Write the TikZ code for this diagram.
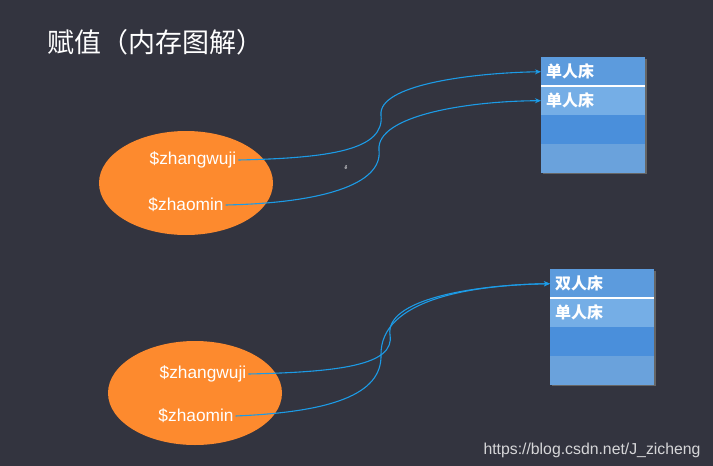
\documentclass[tikz,border=0pt]{standalone}
\usepackage{fontspec}
\setmainfont{Liberation Sans}
\newfontfamily\cjk{Noto Sans CJK SC}
\definecolor{bg}{HTML}{33343F}
\definecolor{org}{HTML}{FD8A2E}
\definecolor{arr}{HTML}{1C9BE6}
\definecolor{rowa}{HTML}{5C9BDD}
\definecolor{rowb}{HTML}{75AEE6}
\definecolor{rowc}{HTML}{4A8FDB}
\definecolor{rowd}{HTML}{6AA2DC}
\begin{document}
\begin{tikzpicture}[x=1pt,y=-1pt,
  ell/.style={ellipse,fill=org,minimum width=174pt,minimum height=104pt,inner sep=0},
  var/.style={text=white,font=\fontsize{17.3}{20}\selectfont,inner sep=2pt},
  cell/.style={minimum width=104pt,minimum height=29pt,inner sep=0,anchor=north west,text=white,font=\cjk\bfseries\fontsize{16}{18}\selectfont,align=left,text width=94pt},
  ptr/.style={arr,line width=1.1pt,-{Stealth[length=6pt,width=5pt]}}]
\usetikzlibrary{shapes.geometric,arrows.meta}
\fill[bg] (0,0) rectangle (713,466);
\node[anchor=west,text=white,font=\cjk\fontsize{27}{30}\selectfont] (title) at (44,42) {赋值（内存图解）};
% top
\node[ell] (e1) at (186,183) {};
\node[var] (z1) at (193,160) {\$zhangwuji};
\node[var] (m1) at (186,205) {\$zhaomin};
\fill[black!60] (543,59) rectangle (647,174);
\node[cell,fill=rowa] (a1) at (541,57) {单人床};
\node[cell,fill=rowb] (a2) at (541,86) {单人床};
\node[cell,fill=rowc] (a3) at (541,115) {};
\node[cell,fill=rowd] (a4) at (541,144) {};
\draw[white,line width=1.5pt] (a2.north west) -- (a2.north east);
\draw[ptr] (z1.east) .. controls (330,158) and (385,150) .. (381,115) .. controls (378,85) and (470,73) .. (a1.west);
\draw[ptr] (m1.east) .. controls (320,203) and (383,185) .. (379,150) .. controls (376,115) and (470,101) .. (a2.west);
\node[text=white,font=\tiny] (dot) at (346,168) {ể};
% bottom
\node[ell] (e2) at (195,393) {};
\node[var] (z2) at (203,374) {\$zhangwuji};
\node[var] (m2) at (196,416) {\$zhaomin};
\fill[black!60] (552,271) rectangle (656,386);
\node[cell,fill=rowa] (b1) at (550,269) {双人床};
\node[cell,fill=rowb] (b2) at (550,298) {单人床};
\node[cell,fill=rowc] (b3) at (550,327) {};
\node[cell,fill=rowd] (b4) at (550,356) {};
\draw[white,line width=1.5pt] (b2.north west) -- (b2.north east);
\draw[ptr] (z2.east) .. controls (340,372) and (395,365) .. (390,335) .. controls (385,300) and (470,285) .. (b1.west);
\draw[ptr] (m2.east) .. controls (330,412) and (382,395) .. (381,355) .. controls (380,300) and (470,285) .. (b1.west);
\node[anchor=south east,text=white!80!bg,font=\fontsize{15.8}{18}\selectfont] (wm) at (704,461) {https://blog.csdn.net/J\_zicheng};
\end{tikzpicture}
\end{document}
